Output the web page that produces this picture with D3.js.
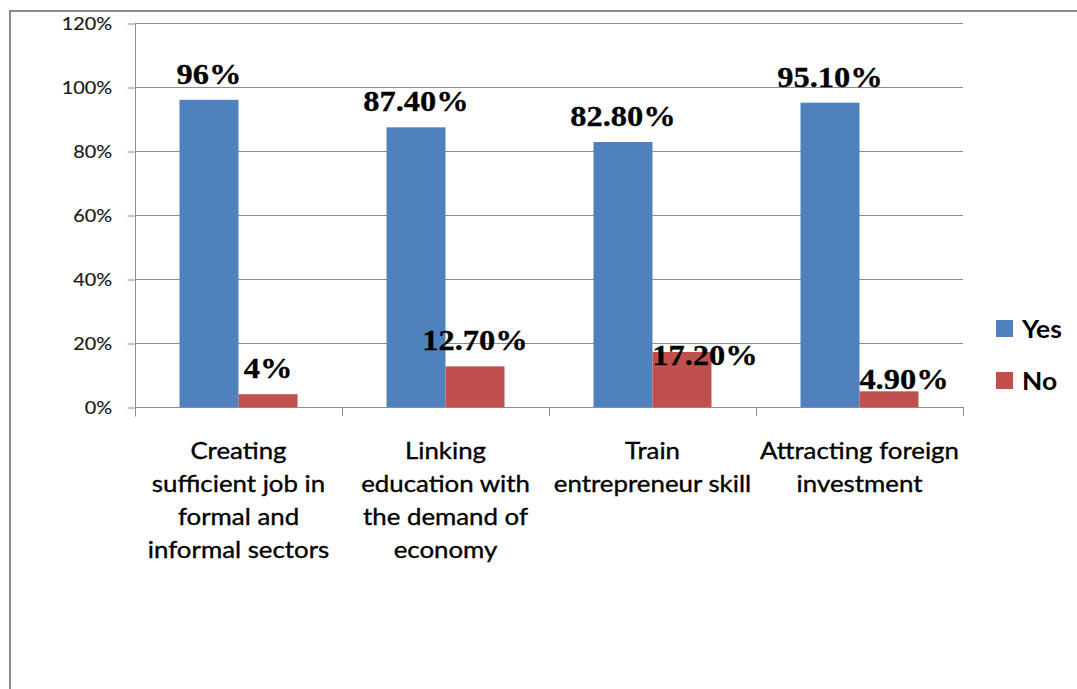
<!DOCTYPE html>
<html>
<head>
<meta charset="utf-8">
<script src="https://cdn.jsdelivr.net/npm/d3@7"></script>
<style>
  html, body { margin: 0; padding: 0; background: #fff; }
  svg { display: block; }
</style>
</head>
<body>
<svg id="chart" width="1077" height="689"></svg>
<script>
// Survey results: share of respondents answering Yes / No per measure
const categories = [
  ["Creating", "sufficient job in", "formal and", "informal sectors"],
  ["Linking", "education with", "the demand of", "economy"],
  ["Train", "entrepreneur skill"],
  ["Attracting foreign", "investment"]
];
const seriesNames = ["Yes", "No"];
const yesValues = [0.96, 0.874, 0.828, 0.951];
const noValues = [0.04, 0.127, 0.172, 0.049];
const yesLabels = ["96%", "87.40%", "82.80%", "95.10%"];
const noLabels = ["4%", "12.70%", "17.20%", "4.90%"];
const yTicks = [0, 0.2, 0.4, 0.6, 0.8, 1.0, 1.2];
const colors = ["#4F81BD", "#C0504D"];

const svg = d3.select("#chart");
const SX = 1.1; // horizontal stretch applied to all text
const sans = "Lato, 'Open Sans', sans-serif";
const serif = "'Liberation Serif', 'Times New Roman', serif";

// outer frame (runs past the right and bottom edges)
svg.append("path")
  .attr("d", "M10,700 L10,11 L1090,11")
  .attr("fill", "none").attr("stroke", "#8c8c8c").attr("stroke-width", 2);

const plot = { left: 135, right: 963, top: 23, bottom: 407 };

const x0 = d3.scaleBand()
  .domain(d3.range(categories.length))
  .range([plot.left, plot.right])
  .paddingInner(0).paddingOuter(0);
const x1 = d3.scaleBand()
  .domain(seriesNames)
  .range([x0.bandwidth() * 0.215, x0.bandwidth() * 0.785])
  .padding(0);
const y = d3.scaleLinear().domain([0, 1.2]).range([plot.bottom, plot.top]);

function stretchedText(parent, xPos, yPos, str) {
  return parent.append("g")
    .attr("transform", `translate(${xPos},${yPos}) scale(${SX},1)`)
    .append("text").text(str);
}

// horizontal gridlines
svg.append("g").selectAll("line")
  .data(yTicks.filter(t => t > 0))
  .join("line")
  .attr("x1", plot.left).attr("x2", plot.right)
  .attr("y1", d => Math.round(y(d)) + 0.5).attr("y2", d => Math.round(y(d)) + 0.5)
  .attr("stroke", "#8c8c8c").attr("stroke-width", 1);

// y axis
const yAxis = d3.axisLeft(y).tickValues(yTicks).tickSize(8).tickFormat(d => "");
const gy = svg.append("g").attr("transform", `translate(${plot.left + 0.5},0.5)`).call(yAxis);
gy.select(".domain").attr("stroke", "#8c8c8c").attr("d", `M0,${plot.top}V${plot.bottom + 9}`);
gy.selectAll(".tick line").attr("stroke", "#8c8c8c");
yTicks.forEach(t => {
  stretchedText(svg, 112, y(t) + 6.5, d3.format(".0%")(t))
    .attr("text-anchor", "end")
    .style("font-family", sans).style("font-size", "18px")
    .attr("fill", "#1a1a1a").attr("stroke", "#1a1a1a").attr("stroke-width", 0.2);
});

// x axis with boundary ticks
const gx = svg.append("g");
gx.append("line")
  .attr("x1", plot.left).attr("x2", plot.right)
  .attr("y1", plot.bottom + 0.5).attr("y2", plot.bottom + 0.5)
  .attr("stroke", "#8c8c8c");
gx.selectAll(".btick")
  .data(d3.range(1, categories.length + 1))
  .join("line")
  .attr("x1", i => Math.round(x0(i - 1) + x0.bandwidth()) + 0.5)
  .attr("x2", i => Math.round(x0(i - 1) + x0.bandwidth()) + 0.5)
  .attr("y1", plot.bottom).attr("y2", plot.bottom + 9)
  .attr("stroke", "#8c8c8c");

// category labels
categories.forEach((lines, i) => {
  const cx = x0(i) + x0.bandwidth() / 2;
  lines.forEach((ln, j) => {
    stretchedText(svg, cx, 459 + j * 33, ln)
      .attr("text-anchor", "middle")
      .style("font-family", sans).style("font-size", "23.5px")
      .attr("fill", "#000").attr("stroke", "#000").attr("stroke-width", 0.35);
  });
});

// bars
const rows = categories.map((c, i) => ({ i, values: [yesValues[i], noValues[i]], labels: [yesLabels[i], noLabels[i]] }));
const groups = svg.append("g").selectAll("g")
  .data(rows).join("g")
  .attr("transform", d => `translate(${x0(d.i)},0)`);
groups.selectAll("rect")
  .data(d => d.values.map((v, k) => ({ v, k })))
  .join("rect")
  .attr("x", d => x1(seriesNames[d.k]))
  .attr("width", x1.bandwidth())
  .attr("y", d => y(d.v))
  .attr("height", d => y(0) - y(d.v))
  .attr("fill", d => colors[d.k]);

// value labels (a few are nudged so they do not sit on the neighbouring bar)
const labelNudge = {
  "2-1": [23, 29],
  "3-1": [15, 14]
};
rows.forEach(r => {
  r.values.forEach((v, k) => {
    const nudge = labelNudge[`${r.i}-${k}`] || [0, 0];
    const cx = x0(r.i) + x1(seriesNames[k]) + x1.bandwidth() / 2 + nudge[0];
    stretchedText(svg, cx, y(v) - 16 + nudge[1], r.labels[k])
      .attr("text-anchor", "middle")
      .style("font-family", serif).style("font-weight", "bold")
      .style("font-size", "29.5px").attr("fill", "#000")
      .attr("stroke", "#000").attr("stroke-width", 0.3);
  });
});

// legend
const legend = svg.append("g");
seriesNames.forEach((name, k) => {
  legend.append("rect")
    .attr("x", 996).attr("y", 320 + k * 52).attr("width", 17).attr("height", 17)
    .attr("fill", colors[k]);
  stretchedText(legend, 1022, 338 + k * 52, name)
    .style("font-family", sans).style("font-weight", "bold")
    .style("font-size", "24px").attr("fill", "#000");
});
</script>
</body>
</html>
